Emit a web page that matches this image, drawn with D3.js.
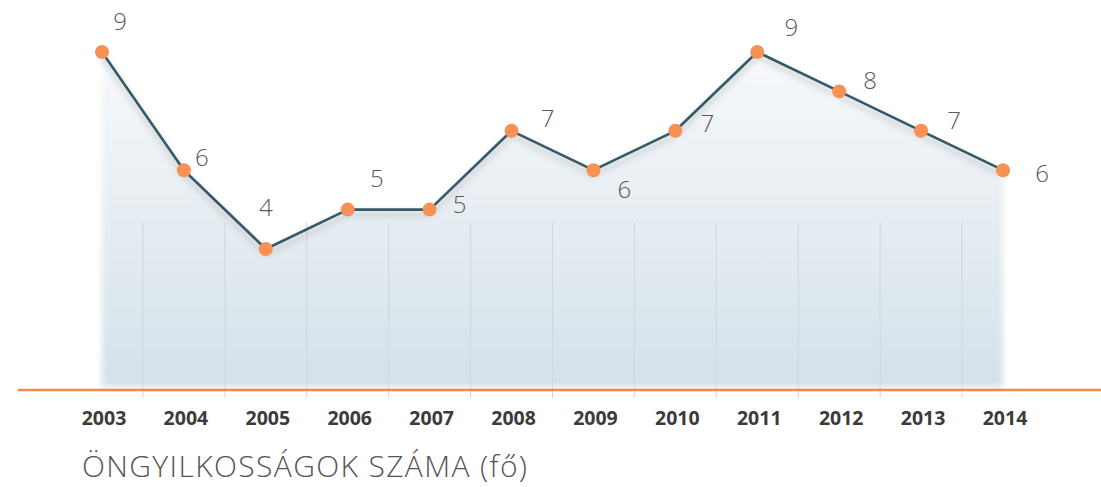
<!DOCTYPE html>
<html>
<head>
<meta charset="utf-8">
<script src="https://cdn.jsdelivr.net/npm/d3@7"></script>
<style>
  html, body { margin: 0; padding: 0; background: #fff; }
  svg { display: block; font-family: "Open Sans", "Noto Sans", sans-serif; }
</style>
</head>
<body>
<div id="chart"></div>
<script>
// data
const years = ['2003', '2004', '2005', '2006', '2007', '2008', '2009', '2010', '2011', '2012', '2013', '2014'];
const values = [9, 6, 4, 5, 5, 7, 6, 7, 9, 8, 7, 6];
const title = 'ÖNGYILKOSSÁGOK SZÁMA (fő)';

// where each value label sits relative to its dot (label placement only)
const labelShift = [[18, -30], [18, -13], [0, -41], [29, -31], [30, -5], [36, -12],
                    [31, 19], [32, -7], [34, -24], [31, -11], [33, -10], [39, 3]];

const width = 1101, height = 487;
const baseY = 390;

const svg = d3.select('#chart').append('svg')
    .attr('width', width)
    .attr('height', height);

const x = d3.scalePoint()
    .domain(years)
    .range([102, 1003]);

const y = d3.scaleLinear()
    .domain([4, 9])
    .range([249, 52]);

const defs = svg.append('defs');

const grad = defs.append('linearGradient')
    .attr('id', 'areaGrad')
    .attr('gradientUnits', 'userSpaceOnUse')
    .attr('x1', 0).attr('x2', 0)
    .attr('y1', 50).attr('y2', baseY);
grad.append('stop').attr('offset', '0%').attr('stop-color', '#f7f9fb');
grad.append('stop').attr('offset', '55%').attr('stop-color', '#e4ecf1');
grad.append('stop').attr('offset', '100%').attr('stop-color', '#d2e0e9');

defs.append('filter')
    .attr('id', 'soft')
    .attr('x', '-5%').attr('y', '-10%').attr('width', '110%').attr('height', '120%')
    .append('feGaussianBlur').attr('stdDeviation', 3);

const shadow = defs.append('filter')
    .attr('id', 'shadow')
    .attr('x', '-5%').attr('y', '-20%').attr('width', '110%').attr('height', '140%');
shadow.append('feDropShadow')
    .attr('dx', 0).attr('dy', 4)
    .attr('stdDeviation', 3)
    .attr('flood-color', '#000')
    .attr('flood-opacity', 0.28);

const data = years.map((yr, i) => ({ year: yr, value: values[i], shift: labelShift[i] }));

// shaded area
const area = d3.area()
    .x(d => x(d.year))
    .y0(baseY - 3)
    .y1(d => y(d.value) + 3);

svg.append('path')
    .datum(data)
    .attr('d', area)
    .attr('fill', 'url(#areaGrad)')
    .attr('filter', 'url(#soft)');

// vertical separators between years
const step = x.step();
svg.append('g')
    .selectAll('line')
    .data(years.slice(0, -1))
    .join('line')
    .attr('x1', d => x(d) + step / 2)
    .attr('x2', d => x(d) + step / 2)
    .attr('y1', 222)
    .attr('y2', 398)
    .attr('stroke', '#cdd7de')
    .attr('stroke-width', 1);

// baseline
svg.append('line')
    .attr('x1', 18).attr('x2', width)
    .attr('y1', baseY).attr('y2', baseY)
    .attr('stroke', '#f08a4b')
    .attr('stroke-width', 2.5);

// line
const line = d3.line()
    .x(d => x(d.year))
    .y(d => y(d.value));

svg.append('path')
    .datum(data)
    .attr('d', line)
    .attr('fill', 'none')
    .attr('stroke', '#36596a')
    .attr('stroke-width', 2.6)
    .attr('stroke-linejoin', 'round')
    .attr('filter', 'url(#shadow)');

// dots
svg.append('g')
    .selectAll('circle')
    .data(data)
    .join('circle')
    .attr('cx', d => x(d.year))
    .attr('cy', d => y(d.value))
    .attr('r', 7)
    .attr('fill', '#f79254');

// value labels
svg.append('g')
    .selectAll('text')
    .data(data)
    .join('text')
    .attr('x', d => x(d.year) + d.shift[0])
    .attr('y', d => y(d.value) + d.shift[1])
    .attr('dy', '0.35em')
    .attr('text-anchor', 'middle')
    .attr('font-size', 24)
    .attr('font-weight', 300)
    .attr('fill', '#595959')
    .text(d => d.value);

// year axis labels
svg.append('g')
    .selectAll('text')
    .data(years)
    .join('text')
    .attr('x', d => x(d) + 2)
    .attr('y', 418)
    .attr('dy', '0.35em')
    .attr('text-anchor', 'middle')
    .attr('font-size', 19.5)
    .attr('font-weight', 700)
    .attr('fill', '#3b3b3b')
    .text(d => d);

// title
svg.append('text')
    .attr('x', 82)
    .attr('y', 477)
    .attr('font-size', 30)
    .attr('font-weight', 300)
    .attr('fill', '#555')
    .attr('textLength', 445)
    .attr('lengthAdjust', 'spacing')
    .text(title);
</script>
</body>
</html>
